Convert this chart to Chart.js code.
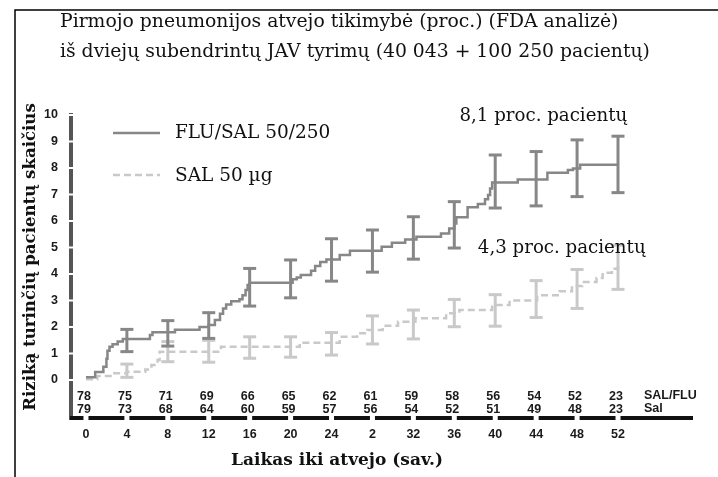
<!DOCTYPE html>
<html>
<head>
<meta charset="utf-8">
<script src="https://cdn.jsdelivr.net/npm/chart.js"></script>
<style>
  html, body { margin: 0; padding: 0; background: #fff; }
  #wrap { width: 718px; height: 477px; position: relative; }
</style>
</head>
<body>
<div id="wrap"><canvas id="chart" width="718" height="477"></canvas></div>
<script>
// ---------- data ----------
const weekTicks = [0, 4, 8, 12, 16, 20, 24, 28, 32, 36, 40, 44, 48, 52];
const weekLabels = ["0", "4", "8", "12", "16", "20", "24", "2", "32", "36", "40", "44", "48", "52"];
const yTicks = [0, 1, 2, 3, 4, 5, 6, 7, 8, 9, 10];

const atRiskSalFlu = [78, 75, 71, 69, 66, 65, 62, 61, 59, 58, 56, 54, 52, 23];
const atRiskSal = [79, 73, 68, 64, 60, 59, 57, 56, 54, 52, 51, 49, 48, 23];

// cumulative % (step curves)
const fluSalWeeks = [0, 0.9, 1.7, 2.0, 2.1, 2.3, 2.6, 3.1, 3.6, 6.25, 6.5, 8.7, 11.1, 12.0, 12.6, 13.1, 13.4, 13.7, 14.2, 15.0, 15.3, 15.6, 15.8, 16.0,
  20.2, 20.6, 21.0, 22.0, 22.4, 22.9, 23.5, 24.8, 25.8, 28.9, 29.9, 31.2, 32.3, 34.7, 35.5, 36.0, 36.2, 37.3, 38.3, 39.0, 39.3, 39.5, 39.7,
  42.2, 45.1, 47.1, 47.6, 48.3, 52.0];
const fluSalValues = [0.1, 0.3, 0.5, 0.8, 1.1, 1.25, 1.35, 1.45, 1.55, 1.7, 1.8, 1.9, 2.0, 2.08, 2.26, 2.5, 2.7, 2.85, 2.97, 3.05, 3.2, 3.4, 3.58, 3.67,
  3.8, 3.87, 3.96, 4.12, 4.3, 4.45, 4.55, 4.72, 4.88, 5.03, 5.18, 5.3, 5.41, 5.53, 5.72, 5.91, 6.14, 6.52, 6.64, 6.82, 6.98, 7.23, 7.45,
  7.57, 7.82, 7.92, 7.98, 8.12, 8.12];

const salWeeks = [0, 1.1, 2.6, 4.0, 5.8, 6.4, 7.0, 7.2, 13.2, 20.9, 24.8, 26.5, 27.5, 29.0, 30.5, 32.2, 35.2, 36.5, 39.7, 41.4, 44.1, 46.3, 47.5, 48.5, 49.9, 50.5, 51.4, 52.0];
const salValues = [0.03, 0.15, 0.25, 0.31, 0.4, 0.57, 0.75, 1.07, 1.25, 1.41, 1.63, 1.76, 1.89, 2.05, 2.2, 2.33, 2.52, 2.64, 2.83, 3.0, 3.2, 3.35, 3.55, 3.7, 3.85, 4.05, 4.2, 4.28];

// 95% CI at the 4-week marks
const ciWeeks = [4, 8, 12, 16, 20, 24, 28, 32, 36, 40, 44, 48, 52];
const fluSalLow = [1.07, 1.28, 1.57, 2.79, 3.1, 3.73, 4.07, 4.56, 4.98, 6.49, 6.57, 6.92, 7.07];
const fluSalHigh = [1.91, 2.24, 2.54, 4.21, 4.53, 5.33, 5.66, 6.16, 6.73, 8.49, 8.62, 9.06, 9.2];
const salLow = [0.1, 0.69, 0.67, 0.82, 0.86, 0.94, 1.36, 1.55, 2.01, 2.03, 2.36, 2.7, 3.42];
const salHigh = [0.6, 1.45, 1.5, 1.63, 1.63, 1.79, 2.42, 2.64, 3.04, 3.22, 3.75, 4.17, 5.09];

const DARK = '#878787';
const LIGHT = '#c9c9c9';
const SERIF = '"DejaVu Serif", serif';
const SANS = '"Liberation Sans", Arial, sans-serif';

function stepPoints(xs, ys) {
  return xs.map((x, i) => ({ x: x, y: ys[i] }));
}

function ciPoints(xs, lo, hi) {
  const pts = [];
  xs.forEach((x, i) => {
    pts.push({ x: x, y: lo[i] });
    pts.push({ x: x, y: hi[i] });
    pts.push({ x: x, y: null });
  });
  return pts;
}

/* ---------- decorations: frame, titles, axes, legend, at-risk table ---------- */
const decor = {
  id: 'decor',
  afterDraw(chart) {
    const ctx = chart.ctx;
    const xs = chart.scales.x;
    const ys = chart.scales.y;
    const area = chart.chartArea;
    ctx.save();

    // frame
    ctx.strokeStyle = '#000';
    ctx.lineWidth = 1.5;
    ctx.beginPath();
    ctx.moveTo(15, 477);
    ctx.lineTo(15, 10);
    ctx.lineTo(718, 10);
    ctx.stroke();

    // title
    ctx.fillStyle = '#111';
    ctx.font = '18.8px ' + SERIF;
    ctx.textAlign = 'left';
    ctx.textBaseline = 'middle';
    ctx.fillText('Pirmojo pneumonijos atvejo tikimybė (proc.) (FDA analizė)', 60, 22);
    ctx.fillText('iš dviejų subendrintų JAV tyrimų (40 043 + 100 250 pacientų)', 60, 52);

    // y axis line, broken at ticks
    ctx.strokeStyle = '#555';
    ctx.lineWidth = 4;
    let prev = area.top;
    yTicks.slice().reverse().forEach(v => {
      const p = ys.getPixelForValue(v);
      if (p - 1 > prev) {
        ctx.beginPath(); ctx.moveTo(area.left + 1, prev); ctx.lineTo(area.left + 1, p - 1); ctx.stroke();
      }
      prev = p + 1;
    });
    ctx.beginPath(); ctx.moveTo(area.left + 1, prev); ctx.lineTo(area.left + 1, area.bottom + 2); ctx.stroke();

    // x axis line, broken at ticks
    ctx.strokeStyle = '#111';
    let px = area.left;
    weekTicks.forEach(w => {
      const p = xs.getPixelForValue(w);
      ctx.beginPath(); ctx.moveTo(px, area.bottom); ctx.lineTo(p - 2.5, area.bottom); ctx.stroke();
      px = p + 2.5;
    });
    ctx.beginPath(); ctx.moveTo(px, area.bottom); ctx.lineTo(area.right, area.bottom); ctx.stroke();

    // numbers at risk
    ctx.font = 'bold 12.5px ' + SANS;
    ctx.fillStyle = '#1a1a1a';
    ctx.textAlign = 'center';
    weekTicks.forEach((w, i) => {
      const p = xs.getPixelForValue(w) - 2;
      ctx.fillText(String(atRiskSalFlu[i]), p, 397);
      ctx.fillText(String(atRiskSal[i]), p, 410);
    });
    ctx.textAlign = 'left';
    ctx.fillText('SAL/FLU', 644, 396);
    ctx.fillText('Sal', 644, 409);

    // axis titles
    ctx.fillStyle = '#111';
    ctx.font = 'bold 17px ' + SERIF;
    ctx.textAlign = 'center';
    ctx.fillText('Laikas iki atvejo (sav.)', 337, 461);
    ctx.save();
    ctx.translate(31, 257);
    ctx.rotate(-Math.PI / 2);
    ctx.font = 'bold 16.6px ' + SERIF;
    ctx.fillText('Riziką turinčių pacientų skaičius', 0, 0);
    ctx.restore();

    // legend
    ctx.lineWidth = 2.5;
    ctx.strokeStyle = DARK;
    ctx.beginPath(); ctx.moveTo(113, 133); ctx.lineTo(160, 133); ctx.stroke();
    ctx.strokeStyle = LIGHT;
    ctx.setLineDash([7, 4]);
    ctx.beginPath(); ctx.moveTo(113, 175); ctx.lineTo(160, 175); ctx.stroke();
    ctx.setLineDash([]);
    ctx.font = '18.5px ' + SERIF;
    ctx.textAlign = 'left';
    ctx.fillStyle = '#111';
    ctx.fillText('FLU/SAL 50/250', 175, 133);
    ctx.fillText('SAL 50 µg', 175, 176);

    // end-point annotations
    ctx.font = '18.2px ' + SERIF;
    ctx.textAlign = 'center';
    ctx.fillText('8,1 proc. pacientų', xs.getPixelForValue(44.7), ys.getPixelForValue(9.94));
    ctx.fillText('4,3 proc. pacientų', xs.getPixelForValue(46.5), ys.getPixelForValue(4.98));

    ctx.restore();
  }
};

new Chart(document.getElementById('chart'), {
  type: 'line',
  data: {
    datasets: [
      {
        label: 'FLU/SAL 50/250',
        data: stepPoints(fluSalWeeks, fluSalValues),
        stepped: 'before',
        borderColor: DARK,
        borderWidth: 2.5,
        pointRadius: 0,
        fill: false
      },
      {
        label: 'FLU/SAL CI',
        data: ciPoints(ciWeeks, fluSalLow, fluSalHigh),
        borderColor: DARK,
        borderWidth: 3,
        spanGaps: false,
        pointStyle: 'line',
        pointRadius: 6.5,
        pointBorderWidth: 3,
        pointBorderColor: DARK,
        pointBackgroundColor: DARK,
        fill: false
      },
      {
        label: 'SAL 50 µg',
        data: stepPoints(salWeeks, salValues),
        stepped: 'before',
        borderColor: LIGHT,
        borderWidth: 2.5,
        borderDash: [7, 4],
        pointRadius: 0,
        fill: false
      },
      {
        label: 'SAL CI',
        data: ciPoints(ciWeeks, salLow, salHigh),
        borderColor: LIGHT,
        borderWidth: 3,
        spanGaps: false,
        pointStyle: 'line',
        pointRadius: 6.5,
        pointBorderWidth: 3,
        pointBorderColor: LIGHT,
        pointBackgroundColor: LIGHT,
        fill: false
      }
    ]
  },
  options: {
    responsive: false,
    animation: false,
    events: [],
    layout: { padding: { left: 0, top: 113, right: 25, bottom: 0 } },
    plugins: {
      legend: { display: false },
      title: { display: false },
      tooltip: { enabled: false }
    },
    scales: {
      x: {
        type: 'linear',
        min: -1.56,
        max: 59.33,
        afterBuildTicks: s => { s.ticks = weekTicks.map(v => ({ value: v })); },
        afterFit: s => { s.height = 59; },
        grid: { display: false, drawTicks: false },
        border: { display: false },
        ticks: {
          autoSkip: false,
          maxRotation: 0,
          padding: 9,
          color: '#1a1a1a',
          font: { family: SANS, size: 12.5, weight: 'bold' },
          callback: v => weekLabels[weekTicks.indexOf(v)]
        }
      },
      y: {
        type: 'linear',
        min: -1.434,
        max: 10.075,
        afterBuildTicks: s => { s.ticks = yTicks.map(v => ({ value: v })); },
        afterFit: s => { s.width = 70; },
        grid: { display: false, drawTicks: false },
        border: { display: false },
        ticks: {
          padding: 12,
          color: '#1a1a1a',
          font: { family: SANS, size: 12.5, weight: 'bold' }
        }
      }
    }
  },
  plugins: [decor]
});
</script>
</body>
</html>
